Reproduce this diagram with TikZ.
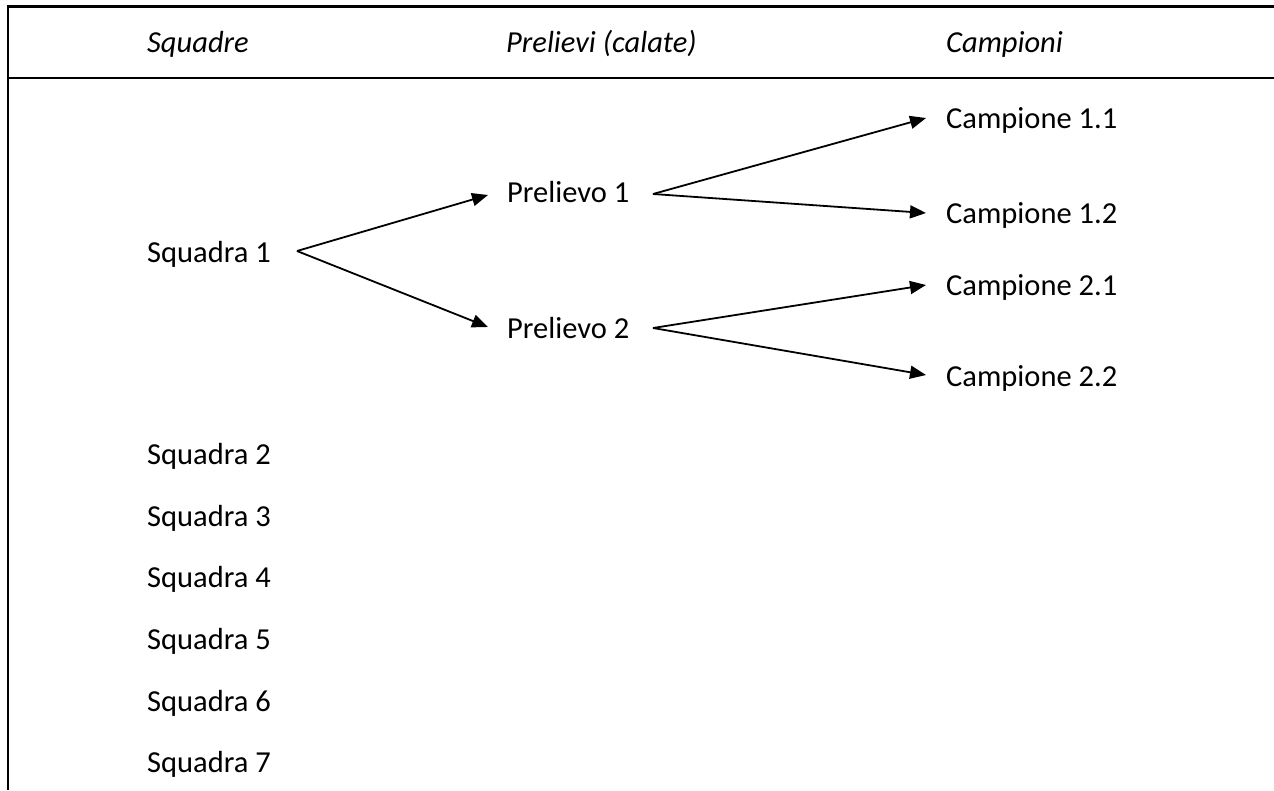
\documentclass[tikz,border=0pt]{standalone}
\usepackage{fontspec}
\setmainfont{Carlito}
\usetikzlibrary{arrows.meta}
\begin{document}
\begin{tikzpicture}[x=1pt,y=-1pt,
  lbl/.style={anchor=base west,inner sep=0pt,font=\fontsize{30.5}{36}\selectfont},
  hdr/.style={lbl,font=\fontsize{30.5}{36}\selectfont\itshape},
  arr/.style={line width=1.8pt,-{Triangle[length=16pt,width=13pt]}},
  rule/.style={line width=2.4pt}]
\useasboundingbox (0,0) rectangle (1274,790);
% frame
\coordinate (tl) at (8,6.5);
\coordinate (tr) at (1274,6.5);
\coordinate (bl) at (8,790);
\coordinate (hl) at (8,78);
\coordinate (hr) at (1274,78);
\draw[rule] (tr) -- (tl) -- (bl);
\draw[rule] (hl) -- (hr);
% headers
\node[hdr] (h1) at (147,52) {Squadre};
\node[hdr] (h2) at (506,52) {Prelievi (calate)};
\node[hdr] (h3) at (946,52) {Campioni};
% squadre
\node[lbl] (s1) at (147,262) {Squadra 1};
\node[lbl] (s2) at (147,464) {Squadra 2};
\node[lbl] (s3) at (147,526) {Squadra 3};
\node[lbl] (s4) at (147,587) {Squadra 4};
\node[lbl] (s5) at (147,649) {Squadra 5};
\node[lbl] (s6) at (147,711) {Squadra 6};
\node[lbl] (s7) at (147,772) {Squadra 7};
% prelievi
\node[lbl] (p1) at (507,202) {Prelievo 1};
\node[lbl] (p2) at (507,338) {Prelievo 2};
% campioni
\node[lbl] (c11) at (946,128) {Campione 1.1};
\node[lbl] (c12) at (946,223) {Campione 1.2};
\node[lbl] (c21) at (946,295) {Campione 2.1};
\node[lbl] (c22) at (946,386) {Campione 2.2};
% connector points
\coordinate (s1o) at (297,251);
\coordinate (p1i) at (488,195);
\coordinate (p2i) at (488,327);
\coordinate (p1o) at (653,194);
\coordinate (p2o) at (653,328);
\coordinate (c11i) at (926,118);
\coordinate (c12i) at (926,213);
\coordinate (c21i) at (926,285);
\coordinate (c22i) at (926,375);
\draw[arr] (s1o) -- (p1i);
\draw[arr] (s1o) -- (p2i);
\draw[arr] (p1o) -- (c11i);
\draw[arr] (p1o) -- (c12i);
\draw[arr] (p2o) -- (c21i);
\draw[arr] (p2o) -- (c22i);
\end{tikzpicture}
\end{document}
